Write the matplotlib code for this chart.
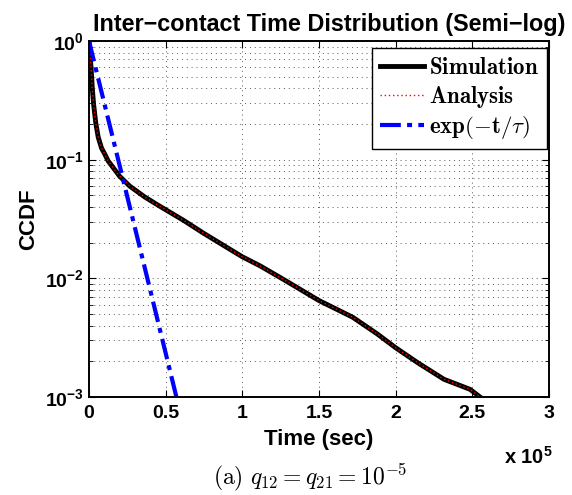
import numpy as np
import matplotlib
matplotlib.use("Agg")
import matplotlib.pyplot as plt
from matplotlib.ticker import LogLocator, NullFormatter

plt.rcParams['font.family'] = ['Liberation Sans', 'DejaVu Sans']
plt.rcParams['font.weight'] = 'bold'
plt.rcParams['mathtext.fontset'] = 'custom'
plt.rcParams['mathtext.rm'] = 'Liberation Sans:bold'
plt.rcParams['mathtext.bf'] = 'Liberation Sans:bold'
plt.rcParams['mathtext.it'] = 'Liberation Sans:bold'

# values (time in seconds)
sim_t = [0, 400, 850, 1500, 2150, 3000, 4400, 6000, 8200, 10200, 12400,
         15700, 20000, 26500, 36300, 45000, 53200, 61700, 74500, 90300,
         100000, 111800, 126800, 150000, 172000, 188000, 200000, 214500,
         231500, 248500, 255000]
sim_ccdf = [1.0, 0.92, 0.72, 0.556, 0.40, 0.293, 0.205, 0.155, 0.125, 0.112,
            0.098, 0.086, 0.0725, 0.060, 0.0486, 0.0414, 0.0358, 0.0308,
            0.0241, 0.0181, 0.0152, 0.0127, 0.0098, 0.0065, 0.0047, 0.0034,
            0.0026, 0.00194, 0.00141, 0.00116, 0.001]
ana_t = list(sim_t)
ana_ccdf = list(sim_ccdf)
exp_t = [0, 20000, 40000, 57000]
exp_ccdf = [1.0, 0.089, 0.0079, 0.001]

xtick_vals = [0, 50000, 100000, 150000, 200000, 250000, 300000]
xtick_labels = ['0', '0.5', '1', '1.5', '2', '2.5', '3']
ytick_vals = [1e-3, 1e-2, 1e-1, 1e0]
ytick_labels = [r'$10^{-3}$', r'$10^{-2}$', r'$10^{-1}$', r'$10^{0}$']

fig = plt.figure(figsize=(5.72, 4.95), dpi=100)
ax = fig.add_axes([0.1556, 0.198, 0.8042, 0.719])

ax.semilogy(sim_t, sim_ccdf, color='black', lw=3.5, label=r'$\mathbf{Simulation}$')
ax.semilogy(ana_t, ana_ccdf, color='red', lw=1.0, ls=(0, (1, 2)), label=r'$\mathbf{Analysis}$')
ax.semilogy(exp_t, exp_ccdf, color='blue', lw=3, ls=(0, (5, 1.5, 1.2, 1.5)),
            label=r'$\mathbf{exp(-t/}\tau\mathbf{)}$')

ax.set_xlim(0, 300000)
ax.set_ylim(1e-3, 1)
ax.set_xticks(xtick_vals)
ax.set_xticklabels(xtick_labels)
ax.set_yticks(ytick_vals)
ax.set_yticklabels(ytick_labels)
ax.yaxis.set_minor_locator(LogLocator(base=10, subs=np.arange(2, 10)))
ax.yaxis.set_minor_formatter(NullFormatter())

ax.tick_params(which='both', direction='in', top=True, right=True, labelsize=14)
ax.tick_params(which='major', length=5, width=0.8)
ax.tick_params(which='minor', length=3, width=0.6)
ax.tick_params(axis='x', pad=6)
ax.grid(True, which='major', axis='both', color='0.35', ls=(0, (1, 4)), lw=0.7)
ax.grid(True, which='minor', axis='y', color='0.35', ls=(0, (1, 4)), lw=0.7)
for s in ax.spines.values():
    s.set_linewidth(1.4)

ax.set_xlabel('Time (sec)', fontsize=16, fontweight='bold', labelpad=5)
ax.set_ylabel('CCDF', fontsize=16, fontweight='bold', labelpad=4)
ax.set_title('Inter\u2212contact Time Distribution (Semi\u2212log)', fontsize=16.8,
             fontweight='bold', pad=7, x=0.522)
fig.text(0.967, 0.063, r'x $10^{5}$', fontsize=14.5, fontweight='bold', ha='right')

leg = ax.legend(loc='upper right', bbox_to_anchor=(0.996, 0.98), fontsize=16.5,
                fancybox=False, framealpha=1, edgecolor='black', borderaxespad=0,
                handlelength=1.9, handletextpad=0.25, labelspacing=0.2,
                borderpad=0.35)
leg.get_frame().set_linewidth(1.0)
for t in leg.get_texts():
    t.set_math_fontfamily('cm')

fig.text(0.542, 0.022, r'$\mathrm{(a)}\ q_{12} = q_{21} = 10^{-5}$',
         fontsize=17, ha='center', va='baseline', math_fontfamily='cm')

fig.savefig('out.png', dpi=100)
